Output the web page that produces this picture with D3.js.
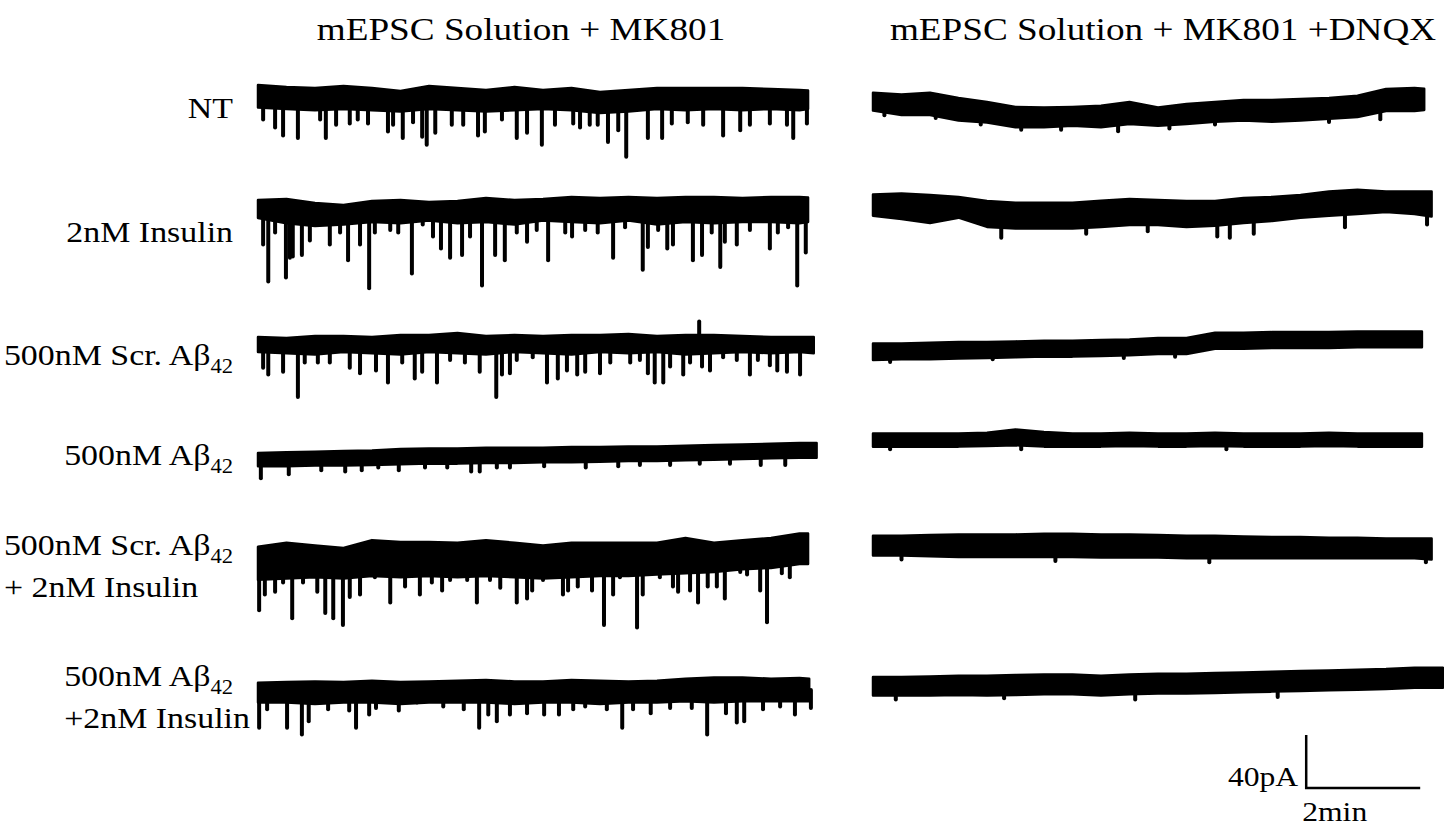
<!DOCTYPE html>
<html>
<head>
<meta charset="utf-8">
<script src="https://cdnjs.cloudflare.com/ajax/libs/d3/7.8.5/d3.min.js"></script>
<style>
body { margin: 0; background: #fff; }
svg text { font-family: "Liberation Serif", "Times New Roman", serif; fill: #000; }
</style>
</head>
<body>
<svg id="chart" width="1444" height="828"></svg>
<script>
// ---- data: envelope of each trace sampled every 0.5 min (pA), events as [min, pA] ----
var step = 0.5;

var titles = ["mEPSC Solution + MK801", "mEPSC Solution + MK801 +DNQX"];

var rowLabels = [
    [["NT"]],
    [["2nM Insulin"]],
    [["500nM Scr. A\u03b2", "42"]],
    [["500nM A\u03b2", "42"]],
    [["500nM Scr. A\u03b2", "42"], ["+ 2nM Insulin"]],
    [["500nM A\u03b2", "42"], ["+2nM Insulin"]]
];

// left column: mEPSC Solution + MK801
var ntLeftDur = 9.65;
var ntLeftHi = [9, 7.5, 6.8, 8.3, 6.8, 4.5, 8.3, 6.8, 5.3, 7.5, 5.3, 6.8, 3.8, 5.3, 6.8, 6.8, 6.8, 6.8, 6, 5.3, 5];
var ntLeftLo = [-8, -9, -10, -9, -10, -11, -9, -10, -11, -10, -9, -10, -12, -11, -9, -10, -9, -10, -9, -10, -9];
var ntLeftEv = [[0.09,-17],[0.30,-23],[0.44,-29],[0.70,-31],[1.09,-17],[1.19,-31],[1.37,-21],[1.61,-20],[1.75,-17],
    [1.93,-20],[2.28,-26],[2.37,-21],[2.54,-31],[2.72,-19],[2.88,-30],[2.96,-36],[3.11,-27],[3.40,-21],[3.60,-21],
    [3.86,-29],[3.98,-26],[4.28,-17],[4.54,-31],[4.72,-27],[4.98,-36],[5.21,-21],[5.53,-20],[5.65,-23],[5.82,-21],
    [5.96,-21],[6.14,-34],[6.32,-25],[6.46,-45],[6.84,-31],[7.09,-31],[7.26,-20],[7.54,-19],[7.81,-21],[8.16,-29],
    [8.46,-25],[8.63,-21],[8.98,-20],[9.28,-21],[9.39,-31],[9.63,-20]];

var insLeftDur = 9.65;
var insLeftHi = [7.5, 8.3, 5.3, 3.8, 6.8, 7.5, 6, 6.8, 9, 7.5, 8.3, 9.8, 9, 9.8, 9, 9.8, 9.8, 9, 9.8, 9.8, 9.5];
var insLeftLo = [-6, -10, -12, -11, -9, -10, -8, -10, -9, -11, -8, -9, -10, -8, -11, -9, -10, -9, -9, -10, -9];
var insLeftEv = [[0.09,-26],[0.18,-54],[0.30,-17],[0.49,-51],[0.56,-36],[0.61,-35],[0.77,-34],[0.91,-23],[1.26,-26],
    [1.44,-17],[1.58,-38],[1.79,-26],[1.95,-59],[2.05,-17],[2.32,-15],[2.46,-17],[2.70,-48],[2.89,-11],[3.07,-20],
    [3.21,-29],[3.37,-36],[3.58,-34],[3.72,-20],[3.93,-57],[4.16,-34],[4.33,-38],[4.54,-17],[4.72,-24],[4.89,-15],
    [5.09,-38],[5.39,-17],[5.51,-20],[5.74,-15],[5.96,-17],[6.23,-36],[6.44,-13],[6.75,-45],[6.84,-28],[7.02,-15],
    [7.18,-29],[7.28,-26],[7.63,-38],[7.79,-34],[7.96,-17],[8.11,-43],[8.19,-24],[8.40,-26],[8.63,-15],[8.98,-29],
    [9.12,-17],[9.30,-13],[9.46,-57],[9.61,-32]];

var scrLeftDur = 9.75;
var scrLeftHi = [5.3, 4.5, 6, 6, 5.3, 6.8, 6.8, 8.3, 6, 6.8, 6, 6.8, 6.8, 7.5, 6, 6.8, 6.8, 6, 5.3, 5.3, 5.3];
var scrLeftLo = [-6, -7, -8, -6, -7, -8, -6, -7, -8, -6, -7, -8, -6, -7, -6, -8, -7, -6, -7, -6, -7];
var scrLeftEv = [[0.09,-18],[0.18,-23],[0.44,-21],[0.70,-40],[0.82,-14],[1.05,-14],[1.26,-14],[1.61,-18],[1.79,-22],
    [2.07,-20],[2.28,-29],[2.53,-14],[2.75,-26],[2.88,-21],[3.14,-29],[3.37,-12],[3.63,-14],[3.89,-21],[4.18,-40],
    [4.28,-23],[4.42,-22],[4.54,-12],[4.82,-10],[5.07,-29],[5.26,-26],[5.42,-20],[5.60,-23],[5.74,-21],[6.00,-22],
    [6.18,-14],[6.53,-14],[6.70,-12],[6.84,-22],[6.96,-29],[7.11,-29],[7.23,-17],[7.46,-23],[7.58,-14],[7.74,17],
    [7.79,-17],[7.93,-20],[8.16,-10],[8.40,-12],[8.63,-23],[8.77,-12],[8.98,-16],[9.11,-20],[9.28,-21],[9.51,-23]];

var abLeftDur = 9.8;
var abLeftHi = [3, 3.5, 4, 4.5, 5, 6, 6.5, 6.5, 7, 7, 7, 7.5, 7.5, 8, 8, 8.5, 9, 9.5, 10, 10.5, 10.5];
var abLeftLo = [-7, -7, -6.5, -6.5, -6, -5.5, -5, -5, -4.5, -4.5, -4, -4, -3.5, -3, -3, -2.5, -2, -1.5, -1, -0.5, -0.5];
var abLeftEv = [[0.05,-16],[0.54,-13],[1.11,-10],[1.53,-11],[1.82,-10],[2.11,-8],[2.47,-10],[2.93,-8],[3.32,-8],
    [3.74,-11],[3.89,-11],[4.19,-8],[4.42,-8],[5.02,-7],[5.75,-8],[6.32,-7],[6.70,-6],[7.23,-6],[7.75,-5],[8.28,-5],
    [8.82,-6],[9.25,-6]];

var scrInsLeftDur = 9.65;
var scrInsLeftHi = [10, 13, 11, 9, 15, 13.6, 13.6, 13, 15, 13, 11, 13, 13, 13, 13, 16.6, 13, 15, 16.6, 20, 20];
var scrInsLeftLo = [-15, -14, -13, -14, -12, -13, -12, -13, -12, -13, -14, -13, -12, -12, -11, -10, -9, -7, -6, -3, -3];
var scrInsLeftEv = [[0.02,-38],[0.12,-26],[0.30,-24],[0.44,-17],[0.60,-44],[0.79,-17],[1.04,-24],[1.18,-40],[1.32,-44],
    [1.49,-49],[1.61,-28],[1.79,-26],[2.05,-13],[2.32,-32],[2.58,-20],[2.84,-26],[3.05,-17],[3.23,-23],[3.37,-15],
    [3.67,-15],[3.84,-32],[4.07,-15],[4.25,-21],[4.54,-32],[4.72,-29],[4.81,-23],[5.00,-15],[5.35,-26],[5.44,-23],
    [5.61,-20],[5.86,-23],[6.07,-49],[6.23,-26],[6.35,-13],[6.65,-51],[6.75,-26],[7.05,-13],[7.28,-20],[7.37,-24],
    [7.58,-23],[7.72,-32],[7.89,-20],[8.05,-20],[8.19,-29],[8.46,-9],[8.58,-11],[8.81,-23],[8.93,-47],[9.19,-10],
    [9.33,-13],[9.49,-2]];

var abInsLeftDur = 9.67;
var abInsLeftHi = [7, 7.5, 8, 7.5, 8.5, 7.5, 8, 8.5, 9, 8, 8, 9, 8.5, 8, 8.5, 10, 11, 11, 10, 10.5, 10];
var abInsLeftLo = [-8, -8, -9, -8, -8, -9, -8, -8, -8, -9, -8, -8, -9, -8, -8, -7, -8, -7, -7, -7, -7];
var abInsLeftEv = [[0.02,-27],[0.16,-13],[0.51,-27],[0.77,-32],[0.89,-22],[1.23,-13],[1.60,-14],[1.72,-27],[1.95,-17],
    [2.07,-12],[2.47,-14],[2.79,-8],[3.25,-11],[3.61,-13],[3.88,-27],[4.04,-17],[4.19,-22],[4.42,-17],[4.72,-16],
    [5.02,-17],[5.28,-17],[5.53,-13],[5.74,-11],[6.12,-13],[6.39,-27],[6.58,-13],[6.89,-16],[7.23,-12],[7.61,-12],
    [7.88,-32],[8.21,-16],[8.40,-23],[8.53,-22],[8.86,-13],[9.16,-11],[9.42,-17],[9.70,-12]];

// right column: mEPSC Solution + MK801 + DNQX
var ntRightDur = 9.67;
var ntRightHi = [10, 8.6, 10, 6, 3, -0.7, -1.2, -0.7, 0.2, 3, -1.2, 1.5, 3, 4.5, 4.5, 5.3, 6, 7.8, 12.8, 13.6, 13];
var ntRightLo = [-3.5, -6.8, -6.8, -11, -12.5, -16, -16, -15, -16, -13.6, -15, -13.6, -11.9, -11, -11.9, -11, -9.7, -8.3, -3.8, -3.8, -3];
var ntRightEv = [[0.2,-7],[1.1,-9],[1.89,-14],[2.6,-18],[3.3,-18],[4.3,-19],[5.2,-17],[6.0,-14],[8.0,-12],[8.9,-10]];

var insRightDur = 9.8;
var insRightHi = [8.7, 9.5, 8.3, 6.8, 3.8, 2.5, 2.5, 2.5, 3.9, 5.3, 4.5, 3.8, 3.8, 6, 6.8, 8.3, 11, 12.3, 11, 11, 11];
var insRightLo = [-7.3, -9.8, -12.8, -8.8, -15.8, -17, -17, -17, -15.8, -14.3, -14.3, -15.8, -15, -12.8, -11.3, -8.8, -7.3, -6, -4.5, -6, -8];
var insRightEv = [[2.25,-24],[3.74,-21],[4.82,-19],[6.04,-23],[6.26,-24],[6.68,-21],[8.28,-16],[9.72,-14]];

var scrRightDur = 9.63;
var scrRightHi = [5, 5, 5.5, 6, 6, 6.5, 7, 7, 7.5, 8, 9, 9, 13, 13, 13.5, 13.5, 13.5, 14, 14, 14, 14];
var scrRightLo = [-7.5, -7, -7, -6.5, -6, -5.5, -5, -5, -4.5, -4, -3, -3, 1, 1, 1.5, 1.5, 1.5, 2, 2, 2, 2];
var scrRightEv = [[0.3,-9],[2.1,-7],[4.4,-6],[5.3,-5]];

var abRightDur = 9.63;
var abRightHi = [5, 5, 5, 5, 5.5, 8, 6, 5, 5, 5.5, 5, 5, 5.5, 5, 5, 5, 5.5, 5, 5, 5, 5];
var abRightLo = [-5, -5, -5, -5, -4.5, -4, -5, -5, -5, -4.5, -5, -5, -4.5, -5, -5, -5, -4.5, -5, -5, -5, -5];
var abRightEv = [[0.3,-7],[2.6,-7],[6.2,-7]];

var scrInsRightDur = 9.8;
var scrInsRightHi = [7, 7, 7.5, 8, 8, 8, 8.5, 8.5, 8, 8, 7.5, 7, 7, 6.5, 6, 6, 5.5, 5.5, 5, 5, 5];
var scrInsRightLo = [-8, -8, -8.5, -9, -9, -9, -9, -9, -9.5, -9.5, -9.5, -10, -10, -10, -10, -10, -10, -10, -10, -10, -11];
var scrInsRightEv = [[0.5,-11],[3.2,-12],[5.9,-13],[9.7,-13]];

var abInsRightDur = 10.0;
var abInsRightHi = [6, 6, 6.5, 7, 7, 7.5, 8, 8, 7, 8, 8.5, 8.5, 9, 9.5, 10, 10.5, 11, 11.5, 12, 13, 13];
var abInsRightLo = [-8, -8, -8, -7.5, -8, -7.5, -7, -7, -8, -7, -6.5, -6.5, -6, -5.5, -5, -4.5, -4, -3.5, -3, -2, -2];
var abInsRightEv = [[0.4,-11],[2.3,-10],[4.6,-11],[7.1,-9]];

// layout
var width = 1444, height = 828;
var pxPerMin = 57, pxPerPA = 1.325;
var colX = [258, 873];
var colTitleX = [521, 1163];
var rowY = [[97, 210, 344, 457, 560, 692], [106, 206, 350, 440, 545, 685]];
var labelBase = [[118], [242], [365], [465], [555, 597], [686, 728]];
var titleStretch = 1.2, labelStretch = 1.13;

var columns = [
    [[ntLeftDur, ntLeftHi, ntLeftLo, ntLeftEv], [insLeftDur, insLeftHi, insLeftLo, insLeftEv],
     [scrLeftDur, scrLeftHi, scrLeftLo, scrLeftEv], [abLeftDur, abLeftHi, abLeftLo, abLeftEv],
     [scrInsLeftDur, scrInsLeftHi, scrInsLeftLo, scrInsLeftEv], [abInsLeftDur, abInsLeftHi, abInsLeftLo, abInsLeftEv]],
    [[ntRightDur, ntRightHi, ntRightLo, ntRightEv], [insRightDur, insRightHi, insRightLo, insRightEv],
     [scrRightDur, scrRightHi, scrRightLo, scrRightEv], [abRightDur, abRightHi, abRightLo, abRightEv],
     [scrInsRightDur, scrInsRightHi, scrInsRightLo, scrInsRightEv], [abInsRightDur, abInsRightHi, abInsRightLo, abInsRightEv]]
];

var svg = d3.select("#chart");

// titles (the source figure's lettering is a bit wider than Liberation Serif)
svg.selectAll("text.title")
    .data(titles)
    .enter()
    .append("text")
    .attr("class", "title")
    .attr("transform", function (d, i) { return "translate(" + colTitleX[i] + ",40) scale(" + titleStretch + ",1)"; })
    .attr("text-anchor", "middle")
    .style("font-size", "31px")
    .text(function (d) { return d; });

function xScaleFor(c) {
    return d3.scaleLinear().domain([0, 10]).range([colX[c], colX[c] + 10 * pxPerMin]);
}
function yScaleFor(cy) {
    return d3.scaleLinear().domain([-40, 40]).range([cy + 40 * pxPerPA, cy - 40 * pxPerPA]);
}

columns.forEach(function (col, c) {
    var x = xScaleFor(c);
    col.forEach(function (tr, r) {
        var dur = tr[0], hi = tr[1], lo = tr[2], ev = tr[3];
        var y = yScaleFor(rowY[c][r]);
        var pts = hi.map(function (h, i) {
            return { t: Math.min(i * step, dur), hi: h, lo: lo[i] };
        });
        var g = svg.append("g").attr("class", "trace");

        g.append("path")
            .datum(pts)
            .attr("d", d3.area()
                .x(function (d) { return x(d.t); })
                .y0(function (d) { return y(d.lo); })
                .y1(function (d) { return y(d.hi); }))
            .attr("fill", "#000")
            .attr("stroke", "#000")
            .attr("stroke-width", 2.5)
            .attr("stroke-linejoin", "round");

        function mid(t) {
            var i = Math.min(Math.floor(t / step), pts.length - 2);
            var a = pts[i], b = pts[i + 1];
            var f = b.t > a.t ? (t - a.t) / (b.t - a.t) : 0;
            return ((a.hi + a.lo) / 2) * (1 - f) + ((b.hi + b.lo) / 2) * f;
        }

        g.selectAll("line")
            .data(ev)
            .enter()
            .append("line")
            .attr("x1", function (d) { return x(d[0]); })
            .attr("x2", function (d) { return x(d[0]); })
            .attr("y1", function (d) { return y(mid(d[0])); })
            .attr("y2", function (d) { return y(d[1]); })
            .attr("stroke", "#000")
            .attr("stroke-width", 4)
            .attr("stroke-linecap", "round");
    });
});

// row labels, right aligned; a second line starts where the first one does
rowLabels.forEach(function (lines, r) {
    var left = null;
    lines.forEach(function (parts, k) {
        var t = svg.append("text")
            .style("font-size", "30px");
        parts.forEach(function (p, j) {
            var s = t.append("tspan").text(p);
            if (j === 1) s.attr("dy", 8).style("font-size", "20px");
        });
        if (k === 0) {
            t.attr("text-anchor", "end")
                .attr("transform", "translate(233," + labelBase[r][k] + ") scale(" + labelStretch + ",1)");
            left = 233 + t.node().getBBox().x * labelStretch;
        } else {
            t.attr("text-anchor", "start")
                .attr("transform", "translate(" + left + "," + labelBase[r][k] + ") scale(" + labelStretch + ",1)");
        }
    });
});

// scale bar: 40 pA, 2 min (right column scale)
var sx = xScaleFor(1);
var sbX = sx(7.6);
var sbY = 788;
var sy = d3.scaleLinear().domain([0, 40]).range([sbY, sbY - 40 * pxPerPA]);
svg.append("path")
    .attr("d", "M" + sbX + "," + sy(40) + "V" + sy(0) + "H" + (sbX + sx(2) - sx(0)))
    .attr("fill", "none")
    .attr("stroke", "#000")
    .attr("stroke-width", 2.5);
svg.append("text")
    .attr("transform", "translate(" + (sbX - 8) + ",786) scale(" + labelStretch + ",1)")
    .attr("text-anchor", "end")
    .style("font-size", "28px")
    .text("40pA");
svg.append("text")
    .attr("transform", "translate(" + (sbX - 4) + ",821) scale(" + labelStretch + ",1)")
    .style("font-size", "28px")
    .text("2min");
</script>
</body>
</html>
